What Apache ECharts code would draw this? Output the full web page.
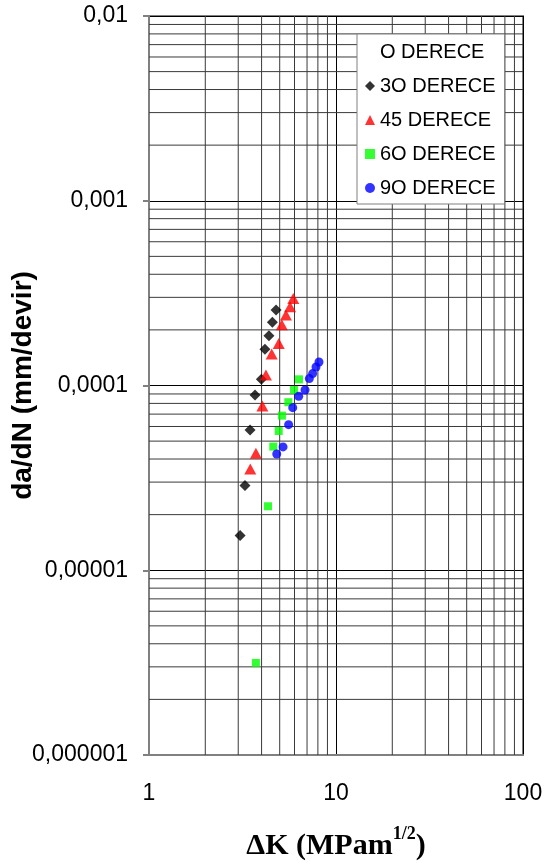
<!DOCTYPE html>
<html style="height: 100%">
<head>
    <meta charset="utf-8">
    <script src="https://cdn.jsdelivr.net/npm/echarts@6/dist/echarts.min.js"></script>
</head>
<body style="height: 100%; margin: 0; background: #fff">
    <div id="main" style="width:545px; height:866px;"></div>
    <script type="text/javascript">
    // [ΔK, da/dN]
    var deg30 = [[3.07, 1.54e-5], [3.26, 2.88e-5], [3.47, 5.74e-5], [3.69, 8.89e-5], [3.99, 1.08e-4],
                 [4.17, 1.57e-4], [4.38, 1.86e-4], [4.57, 2.20e-4], [4.78, 2.56e-4]];
    var deg45 = [[3.48, 3.53e-5], [3.73, 4.30e-5], [4.04, 7.75e-5], [4.22, 1.14e-4], [4.53, 1.48e-4],
                 [4.94, 1.69e-4], [5.13, 2.13e-4], [5.40, 2.41e-4], [5.68, 2.67e-4], [5.91, 2.96e-4]];
    var deg60 = [[3.73, 3.15e-6], [4.33, 2.22e-5], [4.62, 4.67e-5], [4.94, 5.67e-5], [5.14, 6.87e-5],
                 [5.56, 8.12e-5], [5.96, 9.46e-5], [6.34, 1.08e-4]];
    var deg90 = [[4.82, 4.26e-5], [5.21, 4.65e-5], [5.58, 6.14e-5], [5.87, 7.59e-5], [6.32, 8.75e-5],
                 [6.83, 9.46e-5], [7.20, 1.09e-4], [7.50, 1.16e-4], [7.82, 1.26e-4], [8.11, 1.34e-4]];

    var seriesNames = ['O DERECE', '3O DERECE', '45 DERECE', '6O DERECE', '9O DERECE'];
    var xTickLabels = ['1', '10', '100'];
    var yTickLabels = ['0,000001', '0,00001', '0,0001', '0,001', '0,01'];

    // minor grid lines (2..9 in every decade), drawn as broken line segments
    var steps = [2, 3, 4, 5, 6, 7, 8, 9];
    var xDecades = [1, 10];
    var yDecades = [1e-6, 1e-5, 1e-4, 1e-3];
    var xMin = 1, xMax = 100, yMin = 1e-6, yMax = 1e-2;
    var minorGrid = [];
    xDecades.forEach(function (d) {
        steps.forEach(function (s) {
            minorGrid.push([d * s, yMin], [d * s, yMax], '-');
        });
    });
    yDecades.forEach(function (d) {
        steps.forEach(function (s) {
            var v = +(d * s).toPrecision(3);
            minorGrid.push([xMin, v], [xMax, v], '-');
        });
    });

    var myChart = echarts.init(document.getElementById('main'));

    var option = {
        animation: false,
        backgroundColor: '#fff',
        grid: {
            left: 149,
            right: 22,
            top: 16,
            bottom: 111,
            outerBoundsMode: 'none',
            show: true,
            backgroundColor: '#fff',
            borderColor: '#808080',
            borderWidth: 2
        },
        legend: {
            orient: 'vertical',
            left: 357,
            top: 34,
            padding: [8, 9, 6, 8],
            backgroundColor: '#fff',
            borderColor: '#808080',
            borderWidth: 1,
            itemWidth: 10,
            itemHeight: 10,
            itemGap: 14,
            textStyle: { fontFamily: 'Liberation Sans', fontSize: 20, color: '#000', lineHeight: 20 },
            data: seriesNames
        },
        xAxis: {
            type: 'log',
            logBase: 10,
            min: xMin,
            max: xMax,
            name: '{a|ΔK (MPam}{s|1/2}{a|)}',
            nameLocation: 'middle',
            nameGap: 70,
            nameMoveOverlap: false,
            nameTextStyle: {
                rich: {
                    a: { fontFamily: 'Liberation Serif', fontWeight: 'bold', fontSize: 30, color: '#000', lineHeight: 36, verticalAlign: 'bottom' },
                    s: { fontFamily: 'Liberation Serif', fontWeight: 'bold', fontSize: 18, color: '#000', lineHeight: 36, verticalAlign: 'top' }
                }
            },
            axisLine: { lineStyle: { color: '#808080', width: 2 } },
            axisTick: { show: false },
            axisLabel: {
                margin: 27,
                alignMinLabel: 'center',
                alignMaxLabel: 'center',
                fontFamily: 'Liberation Sans',
                fontSize: 23,
                color: '#000',
                formatter: function (v) { return xTickLabels[Math.round(Math.log10(v))]; }
            },
            splitLine: { show: true, lineStyle: { color: '#000', width: 1 } }
        },
        yAxis: {
            type: 'log',
            logBase: 10,
            min: yMin,
            max: yMax,
            name: 'da/dN (mm/devir)',
            nameLocation: 'middle',
            nameGap: 112,
            nameMoveOverlap: false,
            nameTextStyle: { fontFamily: 'Liberation Sans', fontWeight: 'bold', fontSize: 28, color: '#000' },
            axisLine: { lineStyle: { color: '#808080', width: 2 } },
            axisTick: { show: true, length: 6, lineStyle: { color: '#808080', width: 2 } },
            axisLabel: {
                margin: 21,
                fontFamily: 'Liberation Sans',
                fontSize: 23,
                color: '#000',
                formatter: function (v) { return yTickLabels[Math.round(Math.log10(v)) + 6]; }
            },
            splitLine: { show: true, lineStyle: { color: '#000', width: 1 } }
        },
        series: [
            {
                name: 'grid',
                type: 'line',
                data: minorGrid,
                z: 1,
                silent: true,
                showSymbol: false,
                symbol: 'none',
                connectNulls: false,
                lineStyle: { color: '#3a3a3a', width: 1 }
            },
            {
                name: seriesNames[0],
                type: 'scatter',
                data: [],
                itemStyle: { color: 'rgba(0,0,0,0)' }
            },
            {
                name: seriesNames[1],
                type: 'scatter',
                symbol: 'diamond',
                symbolSize: 11,
                z: 3,
                itemStyle: { color: '#000' },
                data: deg30
            },
            {
                name: seriesNames[2],
                type: 'scatter',
                symbol: 'triangle',
                symbolSize: [12, 11],
                z: 3,
                itemStyle: { color: '#ff0000' },
                data: deg45
            },
            {
                name: seriesNames[3],
                type: 'scatter',
                symbol: 'rect',
                symbolSize: 8,
                z: 3,
                itemStyle: { color: '#00ff00' },
                data: deg60
            },
            {
                name: seriesNames[4],
                type: 'scatter',
                symbol: 'circle',
                symbolSize: 9,
                z: 3,
                itemStyle: { color: '#0000ff' },
                data: deg90
            }
        ]
    };

    myChart.setOption(option);
    </script>
</body>
</html>
